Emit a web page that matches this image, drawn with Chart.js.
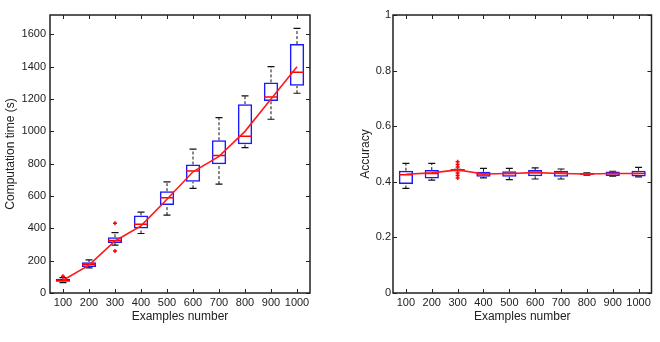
<!DOCTYPE html>
<html>
<head>
<meta charset="utf-8">
<script src="https://cdn.jsdelivr.net/npm/chart.js@4.4.1/dist/chart.umd.min.js"></script>
<style>
  body { margin: 0; background: #fff; width: 660px; height: 342px; overflow: hidden; display: flex; }
  .panel { position: relative; width: 330px; height: 342px; }
</style>
</head>
<body>
<div class="panel"><canvas id="timeChart"></canvas></div>
<div class="panel"><canvas id="accChart"></canvas></div>
<script>
// Categorias (numero de exemplos)
var examples = ['100', '200', '300', '400', '500', '600', '700', '800', '900', '1000'];

// Tempo de computacao (s) - boxplots
var timeLow  = [64, 155, 296, 368, 482, 647, 674, 899, 1075, 1236];
var timeQ1   = [70, 161, 310, 399, 544, 688, 796, 920, 1188, 1282];
var timeMed  = [78, 178, 325, 425, 590, 755, 850, 970, 1212, 1366];
var timeQ3   = [88, 191, 345, 480, 630, 795, 945, 1168, 1303, 1540];
var timeHigh = [95, 205, 374, 500, 688, 890, 1085, 1220, 1400, 1637];
var timeMean = [79, 172, 322, 415, 580, 750, 845, 1000, 1200, 1400];
var timeOutliers = [['100', 103], ['300', 432], ['300', 260]];
var timeTicks = [0, 200, 400, 600, 800, 1000, 1200, 1400, 1600];

// Acuracia - boxplots
var accLow  = [0.376, 0.406, 0.440, 0.414, 0.408, 0.410, 0.410, 0.424, 0.420, 0.418];
var accQ1   = [0.392, 0.412, 0.440, 0.418, 0.418, 0.420, 0.418, 0.425, 0.421, 0.419];
var accMed  = [0.425, 0.430, 0.443, 0.428, 0.430, 0.434, 0.432, 0.428, 0.430, 0.430];
var accQ3   = [0.440, 0.442, 0.445, 0.436, 0.438, 0.442, 0.440, 0.431, 0.437, 0.440];
var accHigh = [0.466, 0.466, 0.445, 0.448, 0.448, 0.450, 0.446, 0.432, 0.438, 0.452];
var accMean = [0.427, 0.432, 0.443, 0.428, 0.430, 0.433, 0.430, 0.428, 0.430, 0.430];
var accOutliers = [['300', 0.472], ['300', 0.462], ['300', 0.453], ['300', 0.432], ['300', 0.423], ['300', 0.414]];
var accTicks = [0, 0.2, 0.4, 0.6, 0.8, 1];

var FONT = "'Liberation Sans', Arial, Helvetica, sans-serif";

// Moldura e marcas internas (estilo Matlab)
var framePlugin = {
    id: 'frame',
    afterDraw: function(chart) {
        var ctx = chart.ctx, a = chart.chartArea;
        var x = chart.scales.x, y = chart.scales.y;
        var len = 4;
        ctx.save();
        ctx.strokeStyle = '#222';
        ctx.lineWidth = 1;
        x.ticks.forEach(function(t, i) {
            var px = Math.round(x.getPixelForTick(i)) + 0.5;
            ctx.beginPath();
            ctx.moveTo(px, a.bottom); ctx.lineTo(px, a.bottom - len);
            ctx.moveTo(px, a.top); ctx.lineTo(px, a.top + len);
            ctx.stroke();
        });
        y.ticks.forEach(function(t, i) {
            var py = Math.round(y.getPixelForTick(i)) + 0.5;
            ctx.beginPath();
            ctx.moveTo(a.left, py); ctx.lineTo(a.left + len, py);
            ctx.moveTo(a.right, py); ctx.lineTo(a.right - len, py);
            ctx.stroke();
        });
        ctx.lineWidth = 1.5;
        ctx.strokeRect(a.left, a.top, a.right - a.left, a.bottom - a.top);
        ctx.restore();
    }
};

function makeBoxChart(id, low, q1, med, q3, high, mean, outliers, tickVals, yMax, yTitle, yWidth, titlePad, labelPad, rightPad) {
    var whiskers = [];
    var caps = [];
    examples.forEach(function(c, i) {
        whiskers.push({x: c, y: low[i]}, {x: c, y: q1[i]}, {x: c, y: null});
        whiskers.push({x: c, y: q3[i]}, {x: c, y: high[i]}, {x: c, y: null});
        caps.push({x: c, y: low[i]}, {x: c, y: high[i]});
    });
    var boxes = examples.map(function(c, i) { return [q1[i], q3[i]]; });
    var medians = examples.map(function(c, i) { return {x: c, y: med[i]}; });
    var outs = outliers.map(function(o) { return {x: o[0], y: o[1]}; });

    return new Chart(document.getElementById(id), {
        type: 'bar',
        data: {
            labels: examples,
            datasets: [
                {
                    type: 'line', data: mean, borderColor: '#ff1a1a', borderWidth: 1.6,
                    pointRadius: 0, tension: 0, order: 0
                },
                {
                    type: 'line', data: outs, showLine: false, pointStyle: 'cross',
                    pointRadius: 2, borderColor: '#ff0000', borderWidth: 1.5, order: 1
                },
                {
                    type: 'line', data: medians, showLine: false, pointStyle: 'line',
                    pointRadius: 7, borderColor: '#ff0000', borderWidth: 1.5, order: 2
                },
                {
                    type: 'bar', data: boxes, backgroundColor: 'rgba(0,0,0,0)',
                    borderColor: '#1a1aff', borderWidth: 1.5, borderSkipped: false,
                    barPercentage: 0.55, categoryPercentage: 1, order: 3
                },
                {
                    type: 'line', data: caps, showLine: false, pointStyle: 'line',
                    pointRadius: 3.5, borderColor: '#111', borderWidth: 1.2, order: 4
                },
                {
                    type: 'line', data: whiskers, borderColor: '#111', borderWidth: 1,
                    borderDash: [3, 2], pointRadius: 0, spanGaps: false, order: 5
                }
            ]
        },
        options: {
            responsive: true,
            maintainAspectRatio: false,
            animation: false,
            events: [],
            layout: { padding: { left: 0, right: rightPad, top: 15, bottom: 0 } },
            plugins: { legend: { display: false }, tooltip: { enabled: false } },
            scales: {
                x: {
                    grid: { display: false, drawTicks: false },
                    border: { display: false },
                    ticks: { color: '#222', font: { family: FONT, size: 11 }, padding: 3, maxRotation: 0, autoSkip: false },
                    title: {
                        display: true, text: 'Examples number', color: '#222',
                        font: { family: FONT, size: 12 }, padding: { top: 0, bottom: 17.8 }
                    },
                    afterFit: function(s) { s.height = 49; }
                },
                y: {
                    min: 0,
                    max: yMax,
                    grid: { display: false, drawTicks: false },
                    border: { display: false },
                    afterBuildTicks: function(s) {
                        s.ticks = tickVals.map(function(v) { return {value: v}; });
                    },
                    ticks: {
                        color: '#222', font: { family: FONT, size: 11 }, padding: labelPad,
                        callback: function(v) { return String(+v.toFixed(1)); }
                    },
                    title: {
                        display: true, text: yTitle, color: '#222',
                        font: { family: FONT, size: 12 }, padding: { top: titlePad, bottom: 0 }
                    },
                    afterFit: function(s) { s.width = yWidth; }
                }
            }
        },
        plugins: [framePlugin]
    });
}

makeBoxChart('timeChart', timeLow, timeQ1, timeMed, timeQ3, timeHigh, timeMean, timeOutliers,
    timeTicks, 1720, 'Computation time (s)', 50, 3.8, 4, 20);
makeBoxChart('accChart', accLow, accQ1, accMed, accQ3, accHigh, accMean, accOutliers,
    accTicks, 1, 'Accuracy', 63, 28.3, 2, 5);
</script>
</body>
</html>
